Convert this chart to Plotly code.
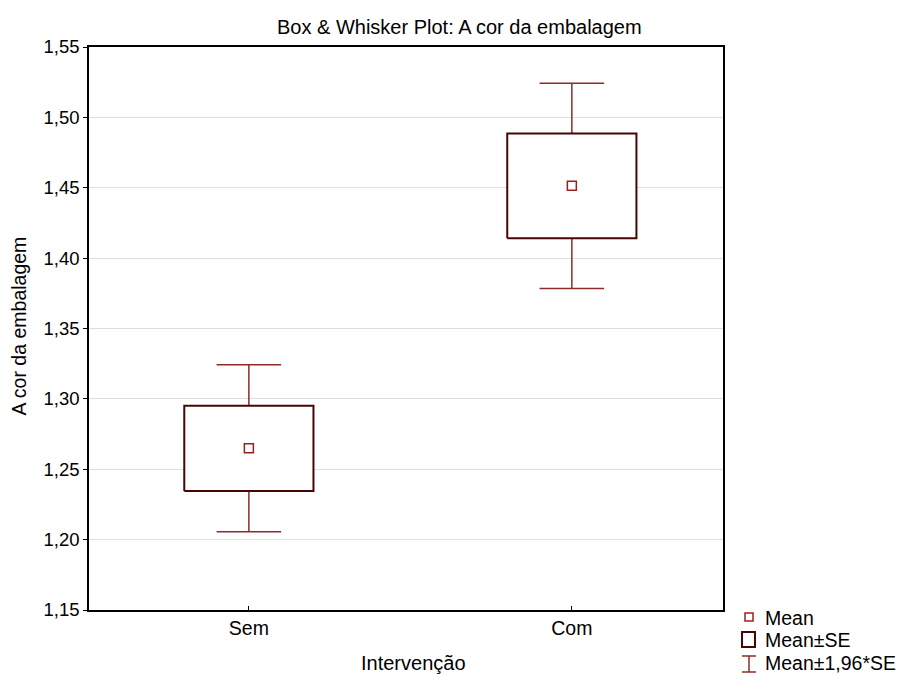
import plotly.graph_objects as go

# Group means and standard errors for "A cor da embalagem"
categories = ["Sem", "Com"]
means = [1.2649, 1.4514]
std_errors = [0.0303, 0.0372]
z_factor = 1.96

y_ticks = [1.15, 1.20, 1.25, 1.30, 1.35, 1.40, 1.45, 1.50, 1.55]
y_tick_text = [f"{v:.2f}".replace(".", ",") for v in y_ticks]

BOX_HALF = 0.2
CAP_HALF = 0.1
BOX_COLOR = "#4a0404"
WHISKER_COLOR = "#8e2a2a"
MEAN_COLOR = "#9a2020"
FONT = "Liberation Sans, Arial, sans-serif"

fig = go.Figure()

for i, (m, se) in enumerate(zip(means, std_errors)):
    lo_se, hi_se = m - se, m + se
    lo_ci, hi_ci = m - z_factor * se, m + z_factor * se
    # whiskers (Mean ± 1.96*SE)
    fig.add_trace(go.Scatter(
        x=[i, i, None, i - CAP_HALF, i + CAP_HALF, None,
           i, i, None, i - CAP_HALF, i + CAP_HALF],
        y=[hi_se, hi_ci, None, hi_ci, hi_ci, None,
           lo_se, lo_ci, None, lo_ci, lo_ci],
        mode="lines", line=dict(color=WHISKER_COLOR, width=1.5),
        hoverinfo="skip", showlegend=False,
    ))
    # box (Mean ± SE)
    fig.add_trace(go.Scatter(
        x=[i - BOX_HALF, i + BOX_HALF, i + BOX_HALF, i - BOX_HALF, i - BOX_HALF],
        y=[lo_se, lo_se, hi_se, hi_se, lo_se],
        mode="lines", line=dict(color=BOX_COLOR, width=2),
        fill="toself", fillcolor="white",
        hoverinfo="skip", showlegend=False,
    ))

# mean markers
fig.add_trace(go.Scatter(
    x=list(range(len(categories))), y=means, mode="markers",
    marker=dict(symbol="square", size=9, color="white",
                line=dict(color=MEAN_COLOR, width=1.5)),
    showlegend=False,
))

# legend symbols drawn next to the plot area
legend_shapes = [
    dict(type="rect", x0=22, x1=30, y0=-3, y1=-11,
         line=dict(color=MEAN_COLOR, width=1.5), fillcolor="white"),
    dict(type="rect", x0=19, x1=32, y0=-22, y1=-37,
         line=dict(color=BOX_COLOR, width=2), fillcolor="white"),
    dict(type="line", x0=26, x1=26, y0=-46, y1=-62,
         line=dict(color=WHISKER_COLOR, width=1.5)),
    dict(type="line", x0=19, x1=33, y0=-46, y1=-46,
         line=dict(color=WHISKER_COLOR, width=1.5)),
    dict(type="line", x0=19, x1=33, y0=-62, y1=-62,
         line=dict(color=WHISKER_COLOR, width=1.5)),
]
for s in legend_shapes:
    s.update(xref="paper", yref="paper", xsizemode="pixel", ysizemode="pixel",
             xanchor=1, yanchor=0)
    fig.add_shape(**s)

legend_labels = [("Mean", -8), ("Mean±SE", -30), ("Mean±1,96*SE", -53)]
annotations = [
    dict(text=t, x=1, y=0, xref="paper", yref="paper", xanchor="left",
         yanchor="middle", xshift=40, yshift=dy, showarrow=False,
         font=dict(size=19.5, color="black", family=FONT))
    for t, dy in legend_labels
]
annotations += [
    dict(text="Box & Whisker Plot: A cor da embalagem", x=0.585, y=1,
         xref="paper", yref="paper", xanchor="center", yanchor="middle",
         yshift=20, showarrow=False, font=dict(size=20, color="black", family=FONT)),
    dict(text="Intervenção", x=0.5, y=0, xref="paper", yref="paper",
         xanchor="center", yanchor="middle", xshift=7, yshift=-53,
         showarrow=False, font=dict(size=20, color="black", family=FONT)),
    dict(text="A cor da embalagem", x=0, y=0.5, xref="paper", yref="paper",
         xanchor="center", yanchor="middle", xshift=-71, yshift=2, textangle=-90,
         showarrow=False, font=dict(size=19.5, color="black", family=FONT)),
]

fig.update_layout(
    width=899, height=675,
    margin=dict(l=89, r=176, t=47, b=65),
    paper_bgcolor="white", plot_bgcolor="white",
    font=dict(family=FONT, size=18, color="black"),
    annotations=annotations,
    xaxis=dict(
        range=[-0.495, 1.468], tickvals=list(range(len(categories))),
        ticktext=categories, ticks="inside", ticklen=4, tickcolor="black",
        showgrid=False, zeroline=False, showline=True, linecolor="black",
        linewidth=1.5, mirror=True, tickfont=dict(size=19.5),
    ),
    yaxis=dict(
        range=[1.15, 1.55], tickvals=y_ticks, ticktext=y_tick_text,
        ticks="outside", ticklen=4, tickcolor="black",
        showgrid=True, gridcolor="#dedede", gridwidth=1, zeroline=False,
        showline=True, linecolor="black", linewidth=1.5, mirror=True,
        tickfont=dict(size=18.5),
    ),
)

fig.write_html("out.html")
